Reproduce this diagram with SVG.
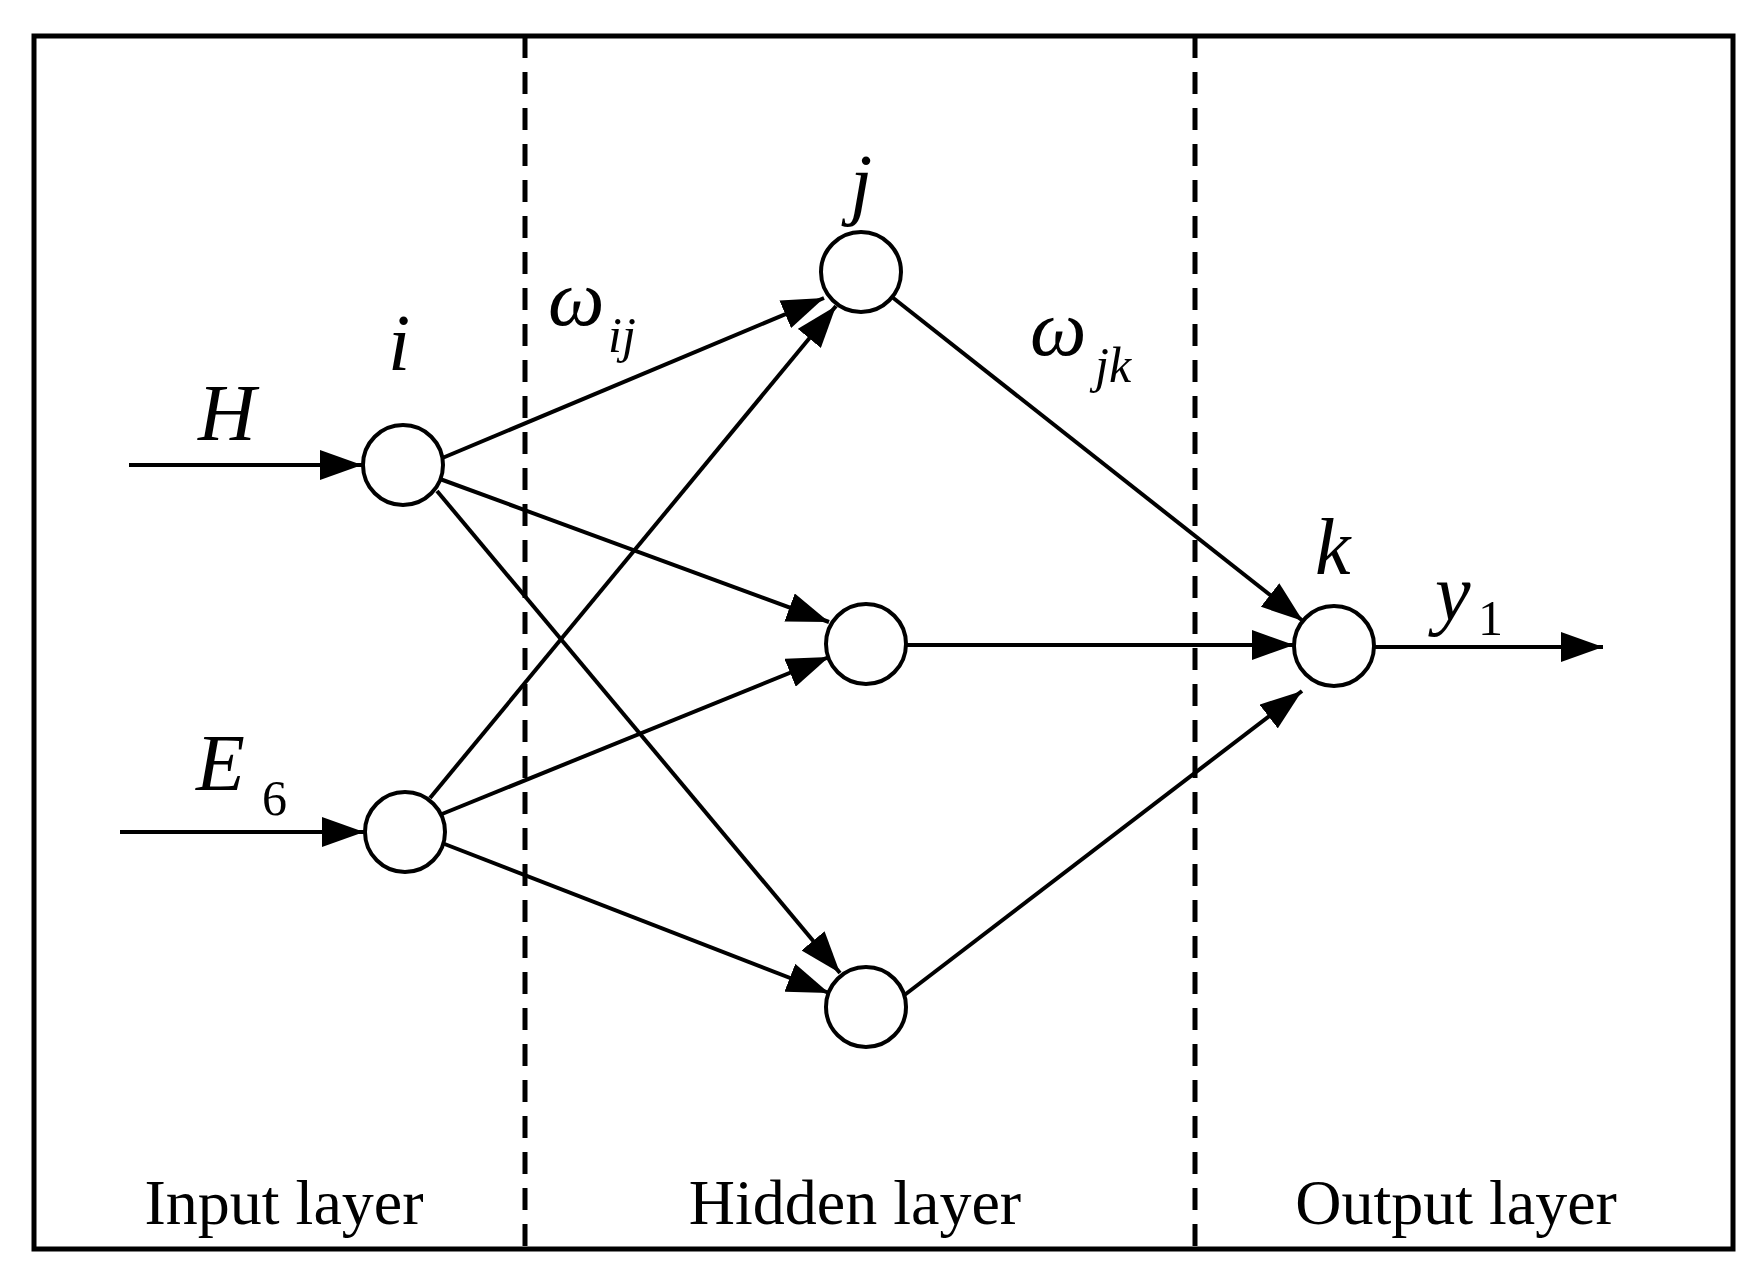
<svg xmlns="http://www.w3.org/2000/svg" width="1760" height="1281" viewBox="0 0 1760 1281">
<style>
.n{fill:#fff;stroke:#000;stroke-width:4}
.e{stroke:#000;stroke-width:4;fill:none;marker-end:url(#a)}
.d{stroke:#000;stroke-width:5;stroke-dasharray:22,14}
.it{font-family:"Liberation Serif",serif;font-style:italic;font-size:80px}
.sub{font-family:"Liberation Serif",serif;font-size:50px}
.lb{font-family:"Liberation Serif",serif;font-size:64px;text-anchor:middle}
</style>
<defs><marker id="a" markerUnits="userSpaceOnUse" markerWidth="44" markerHeight="30" refX="42" refY="15" orient="auto"><path d="M0,0 L42,15 L0,30 Z" fill="#000"/></marker></defs>
<rect x="0" y="0" width="1760" height="1281" fill="#fff"/>
<rect x="34" y="36" width="1699" height="1213" fill="none" stroke="#000" stroke-width="5"/>
<line class="d" x1="525" y1="36" x2="525" y2="1249"/>
<line class="d" x1="1195" y1="36" x2="1195" y2="1249"/>
<g id="connectors">
<line class="e" x1="129" y1="465" x2="362" y2="465"/>
<line class="e" x1="120" y1="832" x2="364" y2="832"/>
<line class="e" x1="440" y1="459" x2="824" y2="298"/>
<line class="e" x1="440" y1="479" x2="829" y2="622"/>
<line class="e" x1="437" y1="491" x2="840" y2="973"/>
<line class="e" x1="430" y1="798" x2="836" y2="306"/>
<line class="e" x1="442" y1="814" x2="829" y2="657"/>
<line class="e" x1="442" y1="843" x2="829" y2="993"/>
<line class="e" x1="892" y1="297" x2="1303" y2="621"/>
<line class="e" x1="906" y1="645" x2="1294" y2="645"/>
<line class="e" x1="898" y1="1000" x2="1302" y2="691"/>
<line class="e" x1="1375" y1="647" x2="1603" y2="647"/>
</g>
<g id="i1"><circle class="n" cx="403" cy="465" r="40"/></g>
<g id="i2"><circle class="n" cx="405" cy="832" r="40"/></g>
<g id="h1"><circle class="n" cx="861" cy="272" r="40"/></g>
<g id="h2"><circle class="n" cx="866" cy="644" r="40"/></g>
<g id="h3"><circle class="n" cx="866" cy="1007" r="40"/></g>
<g id="k"><circle class="n" cx="1334" cy="646" r="40"/></g>
<text class="it" x="198" y="440">H</text>
<text class="it" x="196" y="790">E</text><text class="sub" x="262" y="815">6</text>
<text class="it" x="388" y="370">i</text>
<text class="it" x="850" y="210">j</text>
<text class="it" x="1315" y="574">k</text>
<text class="it" x="548" y="325">ω</text><text class="sub" x="608" y="352" font-style="italic" font-size="40">ij</text>
<text class="it" x="1030" y="355">ω</text><text class="sub" x="1095" y="382" font-style="italic" font-size="44">jk</text>
<text class="it" x="1435" y="620">y</text><text class="sub" x="1478" y="635">1</text>
<text class="lb" x="284" y="1224">Input layer</text>
<text class="lb" x="855" y="1224">Hidden layer</text>
<text class="lb" x="1456" y="1224">Output layer</text>
</svg>
